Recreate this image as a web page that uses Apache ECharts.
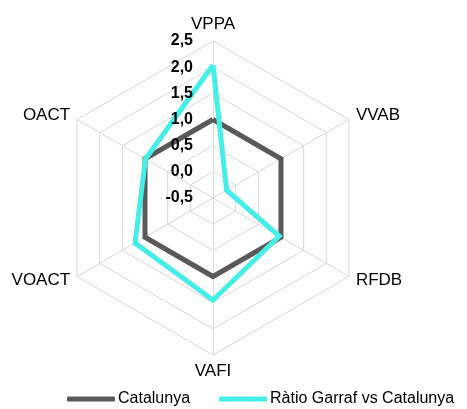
<!DOCTYPE html>
<html>
<head>
<meta charset="utf-8">
<script src="https://cdn.jsdelivr.net/npm/echarts@6/dist/echarts.min.js"></script>
<style>html,body{margin:0;padding:0;background:#fff}#c{width:467px;height:409px}</style>
</head>
<body>
<div id="c"></div>
<script>
// values listed clockwise starting at the top axis
const indicators = ['VPPA', 'VVAB', 'RFDB', 'VAFI', 'VOACT', 'OACT'];
const catalunya = [1, 1, 1, 1, 1, 1];
const ratioGarraf = [2.04, -0.2, 0.96, 1.45, 1.22, 0.99];
const seriesNames = ['Catalunya', 'Ràtio Garraf vs Catalunya'];
const axisMin = -0.5, axisMax = 2.5;

// ECharts radar runs counter-clockwise: reorder to draw clockwise
const order = indicators.map((_, i) => (indicators.length - i) % indicators.length);
const pick = arr => order.map(i => arr[i]);

const font = 'Liberation Sans, Arial, sans-serif';
const baseRadar = {
  center: [213, 198],
  radius: 157,
  startAngle: 90,
  shape: 'polygon',
  splitNumber: 6,
  nameGap: 8,
  axisTick: {show: false},
  splitArea: {show: false}
};
const chart = echarts.init(document.getElementById('c'), null, {renderer: 'canvas'});
chart.setOption({
  animation: false,
  backgroundColor: '#fff',
  legend: {
    left: 62, top: 386,
    itemWidth: 48, itemHeight: 5, itemGap: 29,
    icon: 'roundRect',
    textStyle: {fontFamily: font, fontSize: 16, color: '#000', padding: [0, 0, 0, -2]},
    data: seriesNames
  },
  radar: [
    Object.assign({}, baseRadar, {
      z: 1,
      axisName: {color: '#000', fontFamily: font, fontSize: 17},
      axisLine: {show: true, lineStyle: {color: '#d9d9d9', width: 1}},
      splitLine: {lineStyle: {color: '#d9d9d9', width: 1}},
      axisLabel: {show: false},
      indicator: pick(indicators).map(n => ({name: n, min: axisMin, max: axisMax}))
    }),
    // overlay radar carrying only the value labels, drawn above the lines
    Object.assign({}, baseRadar, {
      z: 5,
      axisName: {show: false},
      axisLine: {show: false},
      splitLine: {show: false},
      axisLabel: {show: false},
      indicator: pick(indicators).map((n, i) => {
        const o = {name: n, min: axisMin, max: axisMax};
        if (i === 0) {
          o.axisLabel = {
            show: true, margin: 20, fontFamily: font, fontSize: 16, fontWeight: 'bold', color: '#000',
            formatter: v => v.toFixed(1).replace('.', ',')
          };
        }
        return o;
      })
    })
  ],
  series: [{
    type: 'radar',
    radarIndex: 0,
    z: 2,
    symbol: 'none',
    data: [
      {name: seriesNames[0], value: pick(catalunya),
       itemStyle: {color: '#595959'},
       lineStyle: {color: '#595959', width: 5, join: 'miter'}},
      {name: seriesNames[1], value: pick(ratioGarraf),
       itemStyle: {color: '#45EEE6'},
       lineStyle: {color: '#45EEE6', width: 5, join: 'miter'}}
    ]
  }]
});
</script>
</body>
</html>
